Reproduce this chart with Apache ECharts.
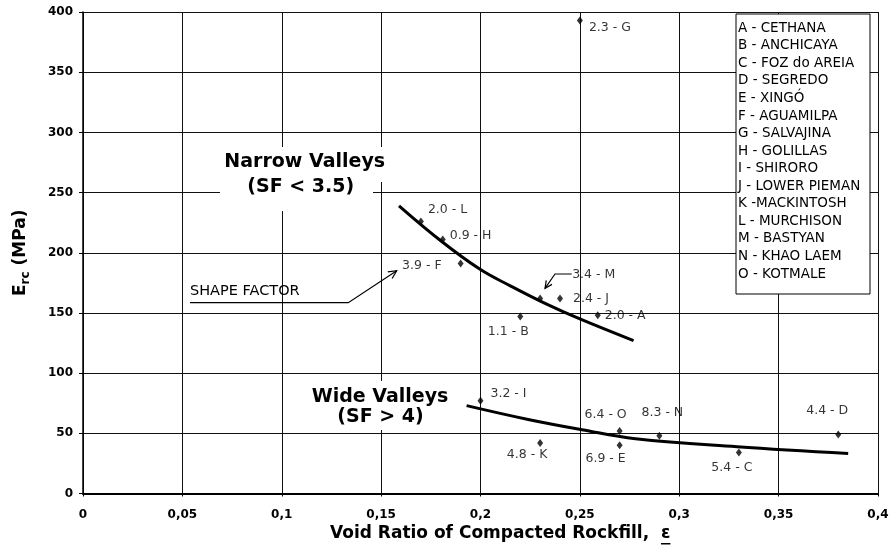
<!DOCTYPE html>
<html>
<head>
<meta charset="utf-8">
<title>Erc - Void Ratio of Compacted Rockfill</title>
<script src="https://cdn.jsdelivr.net/npm/echarts@6/dist/echarts.min.js"></script>
<style>
html, body { margin: 0; padding: 0; background: #fff; }
#main { width: 891px; height: 548px; }
</style>
</head>
<body>
<div id="main"></div>
<script>
// dam code, shape factor, void ratio and modulus
var damCodes    = ['G', 'L', 'H', 'F', 'M', 'J', 'B', 'A', 'I', 'K', 'O', 'E', 'N', 'C', 'D'];
var shapeFactor = ['2.3', '2.0', '0.9', '3.9', '3.4', '2.4', '1.1', '2.0', '3.2', '4.8', '6.4', '6.9', '8.3', '5.4', '4.4'];
var voidRatio   = [0.250, 0.170, 0.181, 0.190, 0.230, 0.240, 0.220, 0.259, 0.200, 0.230, 0.270, 0.270, 0.290, 0.330, 0.380];
var modulusErc  = [393, 226, 211, 191, 162, 162, 147, 148, 77, 42, 52, 40, 48, 34, 49];

// hand drawn trend curves
var narrowX = [0.159, 0.18, 0.2, 0.215, 0.233, 0.25, 0.277];
var narrowY = [239, 210, 186, 172.5, 157.5, 145, 127];
var wideX   = [0.193, 0.224, 0.251, 0.278, 0.329, 0.385];
var wideY   = [73, 61.5, 53, 45.5, 38.8, 33.2];

var legendNames = ['A - CETHANA', 'B - ANCHICAYA', 'C - FOZ do AREIA', 'D - SEGREDO', 'E - XINGÓ',
  'F - AGUAMILPA', 'G - SALVAJINA', 'H - GOLILLAS', 'I - SHIRORO', 'J - LOWER PIEMAN',
  'K -MACKINTOSH', 'L - MURCHISON', 'M - BASTYAN', 'N - KHAO LAEM', 'O - KOTMALE'];

// where each point label sits: align, dx, dy (px from the marker)
var labelPlace = {
  G: ['left', 9, 7], L: ['left', 7, -12], H: ['left', 7, -4], F: ['right', -19, 2],
  M: ['left', 32, -24], J: ['left', 13, 0], B: ['center', -12, 15], A: ['left', 7, 0],
  I: ['left', 10, -7], K: ['center', -13, 12], O: ['center', -14, -16], E: ['center', -14, 13],
  N: ['center', 3, -23], C: ['center', -7, 15], D: ['center', -11, -24]
};

var FONT = 'DejaVu Sans';

function pairs(xs, ys) {
  return xs.map(function (x, i) { return [x, ys[i]]; });
}

// open arrow head at the end of a segment
function arrowHead(x0, y0, x1, y1, len) {
  var a = Math.atan2(y0 - y1, x0 - x1), s = 0.45;
  return [[x1 + len * Math.cos(a + s), y1 + len * Math.sin(a + s)], [x1, y1],
          [x1 + len * Math.cos(a - s), y1 + len * Math.sin(a - s)]];
}

var pointData = damCodes.map(function (c, i) {
  var p = labelPlace[c];
  return {
    value: [voidRatio[i], modulusErc[i]],
    label: { formatter: shapeFactor[i] + ' - ' + c, align: p[0], offset: [p[1], p[2]] }
  };
});

// x axis title with underlined epsilon
var titleText = 'Void Ratio of Compacted Rockfill,  ';
var titleFont = 'bold 17px "' + FONT + '"';
var ctx = document.createElement('canvas').getContext('2d');
ctx.font = titleFont;
var titleX = 330, titleW = ctx.measureText(titleText).width, epsW = ctx.measureText('ε').width;

function txt(x, y, s, font, align) {
  return { type: 'text', z: 101, x: x, y: y,
    style: { text: s, font: font, fill: '#000', align: align, verticalAlign: 'middle', textAlign: align, textVerticalAlign: 'middle' } };
}

var graphics = [
  { type: 'rect', z: 100, shape: { x: 220, y: 147, width: 170, height: 35 }, style: { fill: '#fff' } },
  { type: 'rect', z: 100, shape: { x: 220, y: 182, width: 153, height: 29 }, style: { fill: '#fff' } },
  { type: 'rect', z: 100, shape: { x: 305, y: 381, width: 153, height: 49 }, style: { fill: '#fff' } },
  txt(304.7, 162, 'Narrow Valleys', 'bold 19px "' + FONT + '"', 'center'),
  txt(300.7, 187, '(SF < 3.5)', 'bold 19px "' + FONT + '"', 'center'),
  txt(380, 397, 'Wide Valleys', 'bold 19px "' + FONT + '"', 'center'),
  txt(380.5, 417, '(SF > 4)', 'bold 19px "' + FONT + '"', 'center'),
  txt(190, 291, 'SHAPE FACTOR', '14.5px "' + FONT + '"', 'left'),
  { type: 'polyline', z: 101, shape: { points: [[190, 302.7], [348.3, 302.7], [396.7, 270.7]] }, style: { stroke: '#000', lineWidth: 1.2, fill: null } },
  { type: 'polyline', z: 101, shape: { points: arrowHead(348.3, 302.7, 396.7, 270.7, 9) }, style: { stroke: '#000', lineWidth: 1.2, fill: null } },
  { type: 'polyline', z: 101, shape: { points: [[571.7, 274], [555, 274], [545, 288.3]] }, style: { stroke: '#000', lineWidth: 1.2, fill: null } },
  { type: 'polyline', z: 101, shape: { points: arrowHead(555, 274, 545, 288.3, 8) }, style: { stroke: '#000', lineWidth: 1.2, fill: null } },
  // legend box
  { type: 'rect', z: 100, shape: { x: 736, y: 14, width: 134, height: 280 }, style: { fill: '#fff', stroke: '#000', lineWidth: 1 } },
  // x title
  txt(titleX, 534, titleText, titleFont, 'left'),
  txt(titleX + titleW, 534, 'ε', titleFont, 'left'),
  { type: 'rect', z: 101, shape: { x: titleX + titleW, y: 543, width: epsW, height: 1.5 }, style: { fill: '#000' } }
];
legendNames.forEach(function (n, i) {
  graphics.push(txt(738, 28.3 + i * 17.55, n, '13.5px "' + FONT + '"', 'left'));
});

var chart = echarts.init(document.getElementById('main'));
var option = {
  backgroundColor: '#fff',
  animation: false,
  textStyle: { fontFamily: FONT },
  grid: { left: 83, right: 13, top: 12, bottom: 54.5, outerBoundsMode: 'none' },
  xAxis: {
    type: 'value', min: 0, max: 0.4, interval: 0.05,
    axisLine: { show: true, lineStyle: { color: '#000', width: 2 } },
    axisTick: { show: true, length: 3, lineStyle: { color: '#000' } },
    splitLine: { show: true, lineStyle: { color: '#111', width: 1 } },
    axisLabel: {
      color: '#000', fontFamily: FONT, fontSize: 12, fontWeight: 'bold', margin: 15,
      showMinLabel: true, showMaxLabel: true,
      formatter: function (v) { return String(+v.toFixed(2)).replace('.', ','); }
    }
  },
  yAxis: {
    type: 'value', min: 0, max: 400, interval: 50,
    name: '{e|E}{s|rc}{e| (MPa)}', nameLocation: 'middle', nameRotate: 90, nameGap: 51,
    nameTextStyle: {
      rich: {
        e: { fontFamily: FONT, fontSize: 17, fontWeight: 'bold', lineHeight: 22, color: '#000' },
        s: { fontFamily: FONT, fontSize: 12, fontWeight: 'bold', lineHeight: 14, verticalAlign: 'bottom', color: '#000' }
      }
    },
    axisLine: { show: true, lineStyle: { color: '#000', width: 1.5 } },
    axisTick: { show: true, length: 4, lineStyle: { color: '#000' } },
    splitLine: { show: true, lineStyle: { color: '#111', width: 1 } },
    axisLabel: { color: '#000', fontFamily: FONT, fontSize: 12, fontWeight: 'bold', margin: 10, showMinLabel: true, showMaxLabel: true }
  },
  graphic: graphics,
  series: [
    {
      name: 'Narrow Valleys', type: 'line', data: pairs(narrowX, narrowY), smooth: 0.4,
      symbol: 'none', lineStyle: { color: '#000', width: 3 }, z: 3
    },
    {
      name: 'Wide Valleys', type: 'line', data: pairs(wideX, wideY), smooth: 0.4,
      symbol: 'none', lineStyle: { color: '#000', width: 3 }, z: 3
    },
    {
      name: 'Dams', type: 'scatter', data: pointData,
      symbol: 'diamond', symbolSize: [6, 8], itemStyle: { color: '#000' }, z: 4,
      label: {
        show: true, position: 'inside', verticalAlign: 'middle',
        color: '#000', fontFamily: FONT, fontSize: 12.5
      }
    }
  ]
};
chart.setOption(option);
</script>
</body>
</html>
